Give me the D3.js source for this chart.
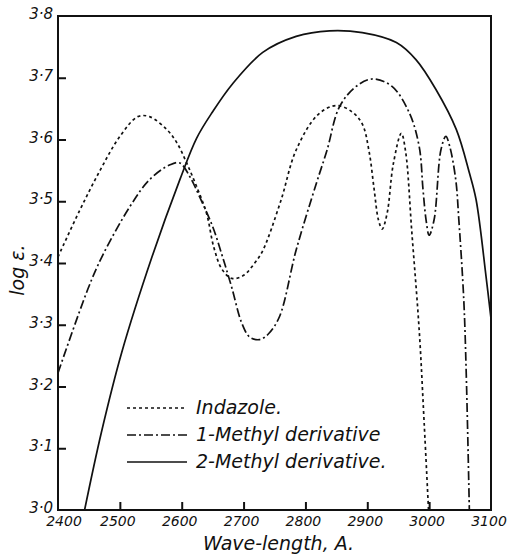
<!DOCTYPE html>
<html>
<head>
<meta charset="utf-8">
<script src="https://cdn.jsdelivr.net/npm/d3@7"></script>
<style>
  body { margin: 0; background: #fff; }
  svg text { font-family: "DejaVu Sans", sans-serif; font-style: italic; fill: #111; }
</style>
</head>
<body>
<svg class="uvChart" width="508" height="558"></svg>
<script>
// wavelength (A) / log epsilon
var indazoleWl = [2400, 2435, 2468, 2500, 2529, 2548, 2576, 2592, 2608, 2624, 2640, 2652, 2665, 2681, 2700, 2718, 2731, 2760, 2785, 2820, 2850, 2875, 2892, 2903, 2911, 2918, 2924, 2932, 2942, 2955, 2962, 2972, 2984, 2992, 2999];
var indazoleLogE = [3.41, 3.485, 3.55, 3.605, 3.637, 3.637, 3.616, 3.595, 3.562, 3.524, 3.481, 3.425, 3.39, 3.375, 3.38, 3.40, 3.42, 3.50, 3.583, 3.64, 3.655, 3.645, 3.625, 3.58, 3.52, 3.47, 3.455, 3.48, 3.56, 3.61, 3.58, 3.45, 3.29, 3.14, 3.00];

var methyl1Wl = [2400, 2448, 2471, 2516, 2548, 2581, 2597, 2613, 2629, 2650, 2666, 2681, 2697, 2710, 2726, 2740, 2758, 2785, 2818, 2835, 2855, 2882, 2908, 2940, 2968, 2984, 2990, 2995, 3000, 3008, 3019, 3027, 3033, 3043, 3048, 3056, 3060, 3065];
var methyl1LogE = [3.222, 3.357, 3.41, 3.491, 3.535, 3.559, 3.562, 3.54, 3.507, 3.459, 3.41, 3.36, 3.303, 3.28, 3.276, 3.285, 3.313, 3.421, 3.53, 3.583, 3.653, 3.686, 3.698, 3.686, 3.643, 3.588, 3.52, 3.47, 3.445, 3.47, 3.583, 3.605, 3.59, 3.535, 3.47, 3.34, 3.22, 3.00];

var methyl2Wl = [2443, 2470, 2503, 2552, 2597, 2624, 2650, 2682, 2731, 2785, 2839, 2892, 2947, 2979, 3011, 3044, 3065, 3076, 3092, 3100];
var methyl2LogE = [3.00, 3.125, 3.255, 3.41, 3.535, 3.602, 3.645, 3.690, 3.741, 3.767, 3.776, 3.773, 3.757, 3.729, 3.681, 3.616, 3.546, 3.502, 3.378, 3.31];

var xTicks = [2400, 2500, 2600, 2700, 2800, 2900, 3000, 3100];
var yTicks = [3.0, 3.1, 3.2, 3.3, 3.4, 3.5, 3.6, 3.7, 3.8];

var seriesNames = ['Indazole.', '1-Methyl derivative', '2-Methyl derivative.'];
var seriesDash = ['3,3', '9,3,2,3', null];

var svg = d3.select('svg.uvChart');
var plotL = 58, plotR = 491, plotT = 16, plotB = 510;

var x = d3.scaleLinear().domain([2400, 3100]).range([plotL, plotR]);
var y = d3.scaleLinear().domain([3.0, 3.8]).range([plotB, plotT]);

svg.append('clipPath').attr('id', 'plotClip')
  .append('rect')
  .attr('x', plotL).attr('y', plotT)
  .attr('width', plotR - plotL).attr('height', plotB - plotT);

// ticks, pointing inward
var xAxis = d3.axisTop(x).tickValues(xTicks.slice(1, -1)).tickSize(8).tickFormat('');
svg.append('g')
  .attr('transform', 'translate(0,' + plotB + ')')
  .call(xAxis)
  .call(function(g) { g.select('.domain').remove(); })
  .selectAll('line').attr('stroke', '#111').attr('stroke-width', 2);

var yAxis = d3.axisRight(y).tickValues(yTicks.slice(1, -1)).tickSize(8).tickFormat('');
svg.append('g')
  .attr('transform', 'translate(' + plotL + ',0)')
  .call(yAxis)
  .call(function(g) { g.select('.domain').remove(); })
  .selectAll('line').attr('stroke', '#111').attr('stroke-width', 2);

// frame
svg.append('rect')
  .attr('x', plotL).attr('y', plotT)
  .attr('width', plotR - plotL).attr('height', plotB - plotT)
  .attr('fill', 'none')
  .attr('stroke', '#111')
  .attr('stroke-width', 2);

// tick labels (first one nudged right, clear of 3·0)
svg.append('g').selectAll('text')
  .data(xTicks)
  .enter()
  .append('text')
  .attr('x', function(d, i) { return x(d) + (i === 0 ? 6 : -2); })
  .attr('y', plotB + 16)
  .attr('text-anchor', 'middle')
  .attr('font-size', '14px')
  .text(function(d) { return d; });

svg.append('g').selectAll('text')
  .data(yTicks)
  .enter()
  .append('text')
  .attr('x', plotL - 5)
  .attr('y', function(d) { return y(d) + 3; })
  .attr('text-anchor', 'end')
  .attr('font-size', '15px')
  .text(function(d) { return d.toFixed(1).replace('.', '·'); });

// axis titles
svg.append('text')
  .attr('x', (plotL + plotR) / 2 + 4)
  .attr('y', 550)
  .attr('text-anchor', 'middle')
  .attr('font-size', '19px')
  .text('Wave-length, A.');

svg.append('text')
  .attr('transform', 'translate(24,270) rotate(-90)')
  .attr('text-anchor', 'middle')
  .attr('font-size', '19px')
  .text('log ε.');

// curves
var line = d3.line()
  .x(function(d) { return x(d[0]); })
  .y(function(d) { return y(d[1]); })
  .curve(d3.curveCatmullRom.alpha(0.5));

var series = [
  d3.zip(indazoleWl, indazoleLogE),
  d3.zip(methyl1Wl, methyl1LogE),
  d3.zip(methyl2Wl, methyl2LogE)
];

svg.append('g')
  .attr('clip-path', 'url(#plotClip)')
  .selectAll('path')
  .data(series)
  .enter()
  .append('path')
  .attr('d', line)
  .attr('fill', 'none')
  .attr('stroke', '#111')
  .attr('stroke-width', 1.7)
  .attr('stroke-dasharray', function(d, i) { return seriesDash[i]; });

// legend
var legend = svg.append('g').attr('class', 'legend');
legend.selectAll('line')
  .data(seriesNames)
  .enter()
  .append('line')
  .attr('x1', 127).attr('x2', 187)
  .attr('y1', function(d, i) { return 408 + i * 27; })
  .attr('y2', function(d, i) { return 408 + i * 27; })
  .attr('stroke', '#111')
  .attr('stroke-width', 1.7)
  .attr('stroke-dasharray', function(d, i) { return seriesDash[i]; });

legend.selectAll('text')
  .data(seriesNames)
  .enter()
  .append('text')
  .attr('x', 196)
  .attr('y', function(d, i) { return 414 + i * 27; })
  .attr('font-size', '19px')
  .text(function(d) { return d; });
</script>
</body>
</html>
